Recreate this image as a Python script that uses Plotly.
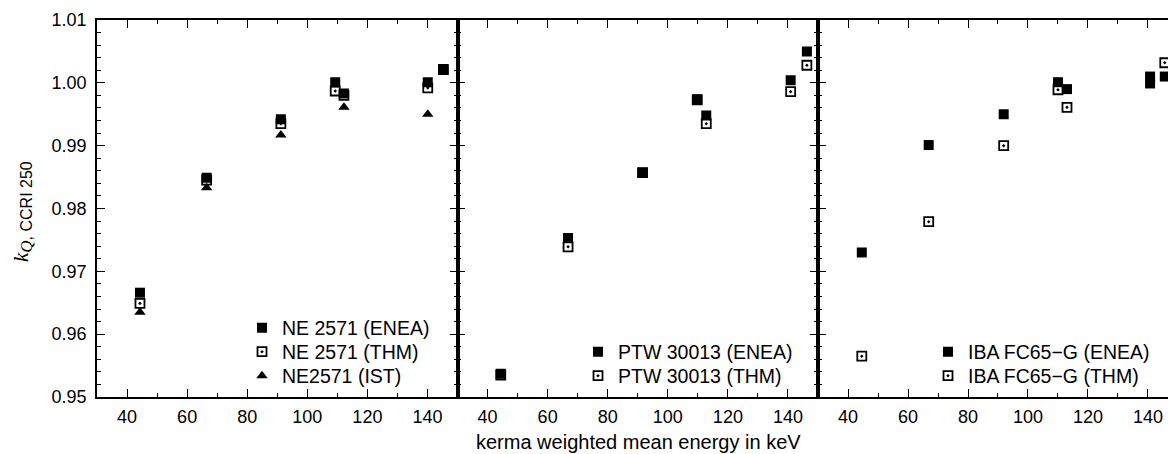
import plotly.graph_objects as go

# ---------------- data ----------------
# Panel 1: NE 2571
ne_enea_x = [44.3, 66.5, 91.2, 109.3, 112.2, 140.1, 145.3]
ne_enea_y = [0.9666, 0.9849, 0.9942, 1.0001, 0.9983, 1.0001, 1.0022]
ne_thm_x = [44.3, 66.5, 91.2, 109.3, 112.2, 140.1, 145.3]
ne_thm_y = [0.9649, 0.9845, 0.9935, 0.9987, 0.9980, 0.9992, 1.0021]
ne_ist_x = [44.3, 66.5, 91.2, 112.2, 140.1]
ne_ist_y = [0.9635, 0.9833, 0.9917, 0.9961, 0.9950]

# Panel 2: PTW 30013
ptw_enea_x = [44.4, 66.8, 91.6, 109.8, 112.8, 140.9, 146.3]
ptw_enea_y = [0.9537, 0.9753, 0.9857, 0.9974, 0.9948, 1.0004, 1.0050]
ptw_thm_x = [44.4, 66.8, 91.6, 109.8, 112.8, 140.9, 146.3]
ptw_thm_y = [0.9535, 0.9739, 0.9857, 0.9973, 0.9935, 0.9986, 1.0028]

# Panel 3: IBA FC65-G
iba_enea_x = [44.6, 66.9, 91.9, 110.0, 113.0, 140.7, 140.7, 145.6]
iba_enea_y = [0.9730, 0.9901, 0.9950, 1.0001, 0.9990, 1.0010, 0.9999, 1.0010]
iba_thm_x = [44.6, 66.9, 91.9, 110.0, 113.0, 145.6]
iba_thm_y = [0.9565, 0.9779, 0.9900, 0.9989, 0.9961, 1.0032]

y_range = [0.95, 1.01]
x_range = [30, 150]
x_range_last = [30, 146.67]

FONT = "Liberation Sans, Arial, Helvetica, sans-serif"

fig = go.Figure()

def filled(x, y, name, xa, ya, leg):
    return go.Scatter(x=x, y=y, mode="markers", name=name, xaxis=xa, yaxis=ya, legend=leg,
                      marker=dict(symbol="square", size=10, color="black",
                                  line=dict(width=0)))

def opened(x, y, name, xa, ya, leg):
    return go.Scatter(x=x, y=y, mode="markers", name=name, xaxis=xa, yaxis=ya, legend=leg,
                      marker=dict(symbol="square-open-dot", size=9, color="black",
                                  line=dict(width=1.8, color="black")))

def tri(x, y, name, xa, ya, leg):
    return go.Scatter(x=x, y=y, mode="markers", name=name, xaxis=xa, yaxis=ya, legend=leg,
                      marker=dict(symbol="triangle-up", size=10, color="black",
                                  line=dict(width=0)))

fig.add_trace(filled(ne_enea_x, ne_enea_y, "NE 2571 (ENEA)", "x", "y", "legend"))
fig.add_trace(opened(ne_thm_x, ne_thm_y, "NE 2571 (THM)", "x", "y", "legend2"))
fig.add_trace(tri(ne_ist_x, ne_ist_y, "NE2571 (IST)", "x", "y", "legend3"))

fig.add_trace(filled(ptw_enea_x, ptw_enea_y, "PTW 30013 (ENEA)", "x2", "y2", "legend4"))
fig.add_trace(opened(ptw_thm_x, ptw_thm_y, "PTW 30013 (THM)", "x2", "y2", "legend5"))

fig.add_trace(filled(iba_enea_x, iba_enea_y, "IBA FC65\u2212G (ENEA)", "x3", "y3", "legend6"))
fig.add_trace(opened(iba_thm_x, iba_thm_y, "IBA FC65\u2212G (THM)", "x3", "y3", "legend7"))

W, H = 1168, 454
ML, MR, MT, MB = 97, 0, 20, 57
PW = W - ML - MR
PH = H - MT - MB

def px_x(p):
    return (p - ML) / PW

def px_y(p):
    return (H - MB - p) / PH

d1 = px_x(457.5)
d2 = px_x(818.0)

tickfont = dict(family=FONT, size=18, color="black")

def xaxis(domain, rng, anchor, mirror):
    return dict(domain=domain, range=rng, anchor=anchor, showline=True, linecolor="black",
                linewidth=1.5, mirror=mirror, ticks="inside", ticklen=8, tickwidth=1,
                tickcolor="black", tick0=0, dtick=20, showgrid=False, zeroline=False,
                tickfont=tickfont, ticklabelstandoff=3,
                minor=dict(ticks="inside", ticklen=4, tickwidth=1, tickcolor="black",
                           tick0=0, dtick=10, showgrid=False))

def yaxis(anchor, labels, mirror):
    return dict(domain=[0, 1], range=y_range, anchor=anchor, showline=True, linecolor="black",
                linewidth=1.5, mirror=mirror, ticks="inside", ticklen=8, tickwidth=1,
                tickcolor="black", tick0=0.95, dtick=0.01, tickformat=".2f",
                showticklabels=labels, showgrid=False, zeroline=False,
                tickfont=tickfont, ticklabelstandoff=5,
                minor=dict(ticks="inside", ticklen=4, tickwidth=1, tickcolor="black",
                           tick0=0.95, dtick=0.002, showgrid=False))

legfont = dict(family=FONT, size=19.5, color="black")

def legend(xp, yp):
    return dict(x=px_x(xp), y=px_y(yp), xanchor="left", yanchor="middle", xref="paper", yref="paper",
                bgcolor="rgba(0,0,0,0)", borderwidth=0, font=legfont,
                tracegroupgap=0, itemsizing="trace")

fig.update_layout(
    width=W, height=H, autosize=False,
    margin=dict(l=ML, r=MR, t=MT, b=MB, pad=0),
    paper_bgcolor="white", plot_bgcolor="white",
    font=dict(family=FONT, color="black"),
    xaxis=xaxis([0, d1], x_range, "y", "ticks"),
    xaxis2=xaxis([d1, d2], x_range, "y2", "ticks"),
    xaxis3=xaxis([d2, 1], x_range_last, "y3", "ticks"),
    yaxis=yaxis("x", True, "ticks"),
    yaxis2=yaxis("x2", False, "ticks"),
    yaxis3=yaxis("x3", False, False),
    legend=legend(242, 328),
    legend2=legend(242, 352),
    legend3=legend(242, 376),
    legend4=legend(578, 352),
    legend5=legend(578, 376),
    legend6=legend(928, 352),
    legend7=legend(928, 376),
    showlegend=True,
)

fig.add_annotation(
    text="<span style='font-family:Liberation Serif, Times New Roman, serif;font-size:21px'><i>k</i></span>"
         "<sub><span style='font-family:Liberation Serif, Times New Roman, serif;font-size:17px'><i>Q</i></span>"
         "<span style='font-size:16px'>, CCRI 250</span></sub>",
    textangle=-90,
    x=px_x(22), y=px_y(212), xref="paper", yref="paper",
    xanchor="center", yanchor="middle", showarrow=False,
    font=dict(family=FONT, size=19, color="black"))

fig.add_annotation(text="kerma weighted mean energy in keV",
                   x=px_x(638), y=px_y(442), xref="paper", yref="paper",
                   xanchor="center", yanchor="middle", showarrow=False,
                   font=dict(family=FONT, size=20, color="black"))

fig.write_html("out.html")
